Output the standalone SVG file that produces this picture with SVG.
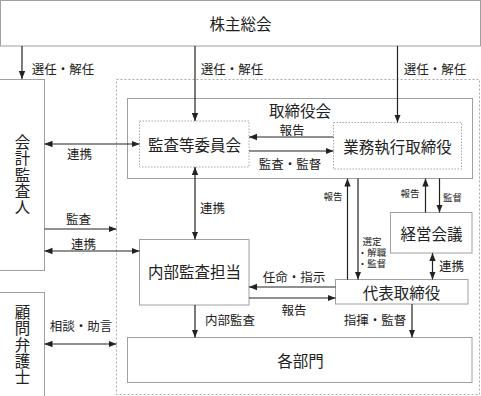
<svg xmlns="http://www.w3.org/2000/svg" width="481" height="396" viewBox="0 0 481 396">
<defs>
<marker id="ah" viewBox="0 0 8 8" refX="8" refY="4" markerWidth="8" markerHeight="8" markerUnits="userSpaceOnUse" orient="auto-start-reverse">
<path d="M0,0.8 L8,4 L0,7.2 Z" fill="#222"/>
</marker>
<style>
.box{fill:#fff;stroke:#a0a0a0;stroke-width:1}
.dash{fill:none;stroke:#a8a8a8;stroke-width:1;stroke-dasharray:2 2}
.dot{fill:#fff;stroke:#a8a8a8;stroke-width:1;stroke-dasharray:1.5 1.5}
.t{font-family:"Noto Sans CJK JP","Noto Sans CJK SC",sans-serif;fill:#222;text-anchor:middle;dominant-baseline:central}
.v{font-family:"Noto Sans CJK JP","Noto Sans CJK SC",sans-serif;fill:#222;text-anchor:middle;writing-mode:vertical-rl;font-size:15.5px;letter-spacing:0.6px}
.big{font-size:15.5px}
.mid{font-size:12.5px}
.sm{font-size:9.5px}
.ar{stroke:#222;stroke-width:1.2;fill:none;marker-end:url(#ah)}
.ar2{stroke:#222;stroke-width:1.2;fill:none;marker-end:url(#ah);marker-start:url(#ah)}
</style>
</defs>
<rect width="481" height="396" fill="#fff"/>
<g id="outer"><rect class="dash" x="116.5" y="79.5" width="363" height="315"/></g>
<g id="kabunushi"><rect class="box" x="0.5" y="0.5" width="480" height="45.5"/><text class="t big" x="240.5" y="23">株主総会</text></g>
<g id="kaikei"><rect class="box" x="-1" y="79.5" width="45.5" height="191"/>
<text class="v" x="22.5" y="175">会計監査人</text></g>
<g id="komon"><rect class="box" x="-1" y="292.5" width="45.5" height="104"/>
<text class="v" x="22.5" y="345">顧問弁護士</text></g>
<g id="torishimariyakukai"><rect class="box" x="127.5" y="98.5" width="345" height="80"/><text class="t big" x="300" y="109.5">取締役会</text></g>
<g id="kansa"><rect class="dot" x="139.5" y="121" width="109.5" height="46"/><text class="t big" x="194.5" y="144">監査等委員会</text></g>
<g id="gyomu"><rect class="dot" x="333.5" y="122.5" width="128" height="46.5"/><text class="t big" x="397.5" y="146">業務執行取締役</text></g>
<g id="naibu"><rect class="box" x="139.5" y="239.5" width="109.5" height="65.5"/><text class="t big" x="194.5" y="271">内部監査担当</text></g>
<g id="keiei"><rect class="box" x="390.5" y="212.5" width="81.5" height="40.5"/><text class="t big" x="431.5" y="233">経営会議</text></g>
<g id="daihyo"><rect class="box" x="335.5" y="279.5" width="132.5" height="24.5"/><text class="t big" x="401.5" y="292">代表取締役</text></g>
<g id="kakubu"><rect class="box" x="127.5" y="337.5" width="344.5" height="45"/><text class="t big" x="300.5" y="360">各部門</text></g>
<g id="connectors">
<line class="ar" x1="22" y1="46" x2="22" y2="79"/>
<line class="ar" x1="195" y1="46" x2="195" y2="121"/>
<line class="ar" x1="397.5" y1="46" x2="397.5" y2="122.5"/>
<line class="ar2" x1="44.5" y1="144" x2="139.5" y2="144"/>
<line class="ar" x1="333.5" y1="137" x2="249" y2="137"/>
<line class="ar" x1="249" y1="151" x2="333.5" y2="151"/>
<line class="ar2" x1="195" y1="167" x2="195" y2="239.5"/>
<line class="ar" x1="44.5" y1="229" x2="116.5" y2="229"/>
<line class="ar2" x1="44.5" y1="251" x2="139.5" y2="251"/>
<line class="ar" x1="195" y1="305" x2="195" y2="337.5"/>
<line class="ar" x1="335.5" y1="287" x2="249" y2="287"/>
<line class="ar" x1="249" y1="298" x2="335.5" y2="298"/>
<line class="ar" x1="412" y1="304" x2="412" y2="337.5"/>
<line class="ar" x1="347.5" y1="279.5" x2="347.5" y2="178.5"/>
<line class="ar" x1="358" y1="178.5" x2="358" y2="279.5"/>
<line class="ar" x1="425.5" y1="212.5" x2="425.5" y2="178.5"/>
<line class="ar" x1="439.5" y1="178.5" x2="439.5" y2="212.5"/>
<line class="ar2" x1="432.5" y1="253" x2="432.5" y2="279.5"/>
<line class="ar2" x1="44.5" y1="344" x2="116.5" y2="344"/>
</g>
<g id="labels">
<text class="t mid" x="63" y="68">選任・解任</text>
<text class="t mid" x="232" y="68">選任・解任</text>
<text class="t mid" x="435" y="68">選任・解任</text>
<text class="t mid" x="79.5" y="153">連携</text>
<text class="t mid" x="292" y="129">報告</text>
<text class="t mid" x="290" y="163">監査・監督</text>
<text class="t mid" x="212.5" y="207">連携</text>
<text class="t mid" x="78.5" y="218">監査</text>
<text class="t mid" x="83.5" y="243">連携</text>
<text class="t mid" x="294" y="276.5">任命・指示</text>
<text class="t mid" x="294" y="309.5">報告</text>
<text class="t mid" x="230" y="319">内部監査</text>
<text class="t mid" x="375" y="319">指揮・監督</text>
<text class="t mid" x="81" y="325">相談・助言</text>
<text class="t mid" x="451.5" y="265.5">連携</text>
<text class="t sm" x="333" y="195.5">報告</text>
<text class="t sm" x="410" y="193">報告</text>
<text class="t sm" x="452.5" y="197">監督</text>
<text class="t sm" x="372"><tspan x="372" y="241">選定</tspan><tspan x="372" y="252">・解職</tspan><tspan x="372" y="263">・監督</tspan></text>
</g>
</svg>
